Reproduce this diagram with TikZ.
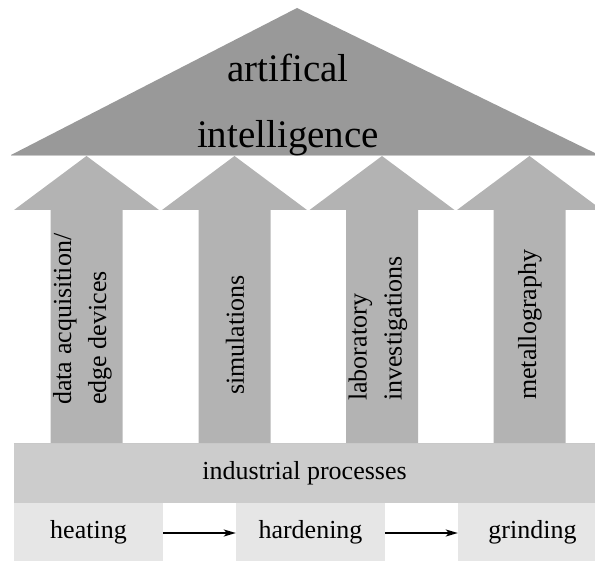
\documentclass[tikz,border=0pt]{standalone}
\usepackage{fontspec}
\setmainfont{Liberation Serif}
\newfontfamily\timesfont{Liberation Serif}
\usetikzlibrary{arrows.meta}
\definecolor{roofgray}{HTML}{999999}
\definecolor{pillargray}{HTML}{B3B3B3}
\definecolor{bargray}{HTML}{CCCCCC}
\definecolor{boxgray}{HTML}{E6E6E6}
\definecolor{edgegray}{HTML}{C8C8C8}
\begin{document}
\begin{tikzpicture}[x=1pt,y=-1pt,
  rooftext/.style={font=\timesfont\fontsize{39}{66}\selectfont, align=center, inner sep=0pt},
  pillartext/.style={font=\timesfont\fontsize{26}{35}\selectfont, align=left, rotate=90, anchor=west, inner sep=0pt},
  basebar/.style={fill=bargray, minimum width=581pt, minimum height=59pt, inner sep=0pt, font=\timesfont\fontsize{26}{30}\selectfont},
  procbox/.style={fill=boxgray, minimum width=149pt, minimum height=58pt, inner sep=0pt, font=\timesfont\fontsize{26}{30}\selectfont},
  flow/.style={line width=1.4pt, -{Stealth[length=12pt,width=7pt,inset=3pt]}}]
\useasboundingbox (0,0) rectangle (595,561);
\clip (0,0) rectangle (595,561);
% roof
\fill[roofgray] (11,155) -- (297,8) -- (599,155) -- cycle;
\draw[edgegray, line width=0.8pt] (11,155) -- (599,155);
\node[rooftext] (ai) at (288,105) {artifical\\intelligence};
% pillars (arrows)
\foreach \cx in {86.5,234.5,382,529.5}{
  \fill[pillargray] (\cx-36,444) -- (\cx-36,210) -- (\cx-72.5,210) -- (\cx,156)
        -- (\cx+72.5,210) -- (\cx+36,210) -- (\cx+36,444) -- cycle;
}
\node[pillartext] (p1) at (82.5,405) {data acquisition/\\edge devices};
\node[pillartext] (p2) at (235,395) {simulations};
\node[pillartext] (p3) at (378,401) {laboratory\\investigations};
\node[pillartext] (p4) at (530,400) {metallography};
% base
\node[basebar] (ip) at (304.5,473.5) {industrial processes};
\draw[edgegray, line width=0.6pt] (ip.north west) -- (ip.north east);
\node[procbox] (heat) at (88.5,532) {heating};
\node[procbox] (hard) at (310.5,532) {hardening};
\node[procbox] (grind) at (532.5,532) {grinding};
\draw[flow] (heat.east |- 0,533) -- (hard.west |- 0,533);
\draw[flow] (hard.east |- 0,533) -- (grind.west |- 0,533);
\end{tikzpicture}
\end{document}
